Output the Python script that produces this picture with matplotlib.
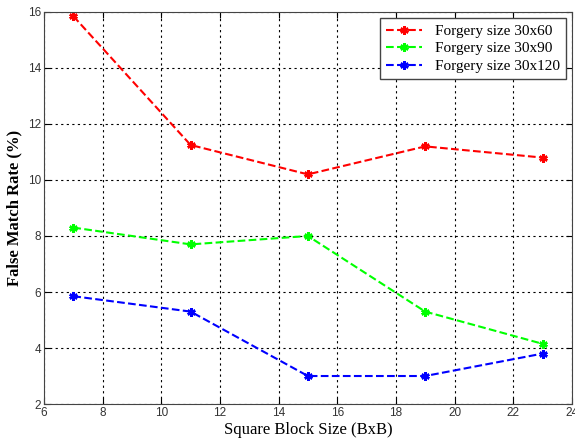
import numpy as np
import matplotlib
matplotlib.use("Agg")
import matplotlib.pyplot as plt

# block sizes and false match rates (%)
block_size = [7, 11, 15, 19, 23]
fmr_30x60 = [15.85, 11.25, 10.2, 11.2, 10.8]
fmr_30x90 = [8.3, 7.7, 8.0, 5.3, 4.15]
fmr_30x120 = [5.85, 5.3, 3.0, 3.0, 3.8]
labels = ['Forgery size 30x60', 'Forgery size 30x90', 'Forgery size 30x120']

fig = plt.figure(figsize=(5.75, 4.43), dpi=100)
ax = fig.add_axes([0.0765, 0.088, 0.918, 0.885])

mk = dict(marker=(6, 2, 0), markersize=6, markeredgewidth=1.8, linewidth=1.5)
ax.plot(block_size, fmr_30x60, '--', color='#ff0000', label=labels[0], **mk)
ax.plot(block_size, fmr_30x90, '--', color='#00ff00', label=labels[1], **mk)
ax.plot(block_size, fmr_30x120, '--', color='#0000ff', label=labels[2], **mk)

ax.set_xlim(6, 24)
ax.set_ylim(2, 16)
ax.set_xticks(np.arange(6, 25, 2))
ax.set_yticks(np.arange(2, 17, 2))
ax.grid(True, linestyle=(0, (2, 3)), color='black', linewidth=0.8)
ax.tick_params(direction='in', top=True, right=True, labelsize=8.5, length=4, pad=2,
               labelcolor='#333333')
for t in ax.get_xticklabels() + ax.get_yticklabels():
    t.set_fontfamily('Liberation Sans')
for s in ax.spines.values():
    s.set_color('#444444')

ax.set_xlabel('Square Block Size (BxB)', fontfamily='Liberation Serif', fontsize=12, labelpad=2)
ax.set_ylabel('False Match Rate (%)', fontfamily='Liberation Serif', fontsize=12, fontweight='bold', labelpad=4)

leg = ax.legend(loc='upper right', prop={'family': 'Liberation Serif', 'size': 11},
                fancybox=False, framealpha=1, edgecolor='#444444', handlelength=2.4,
                borderaxespad=0.4, labelspacing=0.25, borderpad=0.4)

plt.savefig('out.png', dpi=100)
